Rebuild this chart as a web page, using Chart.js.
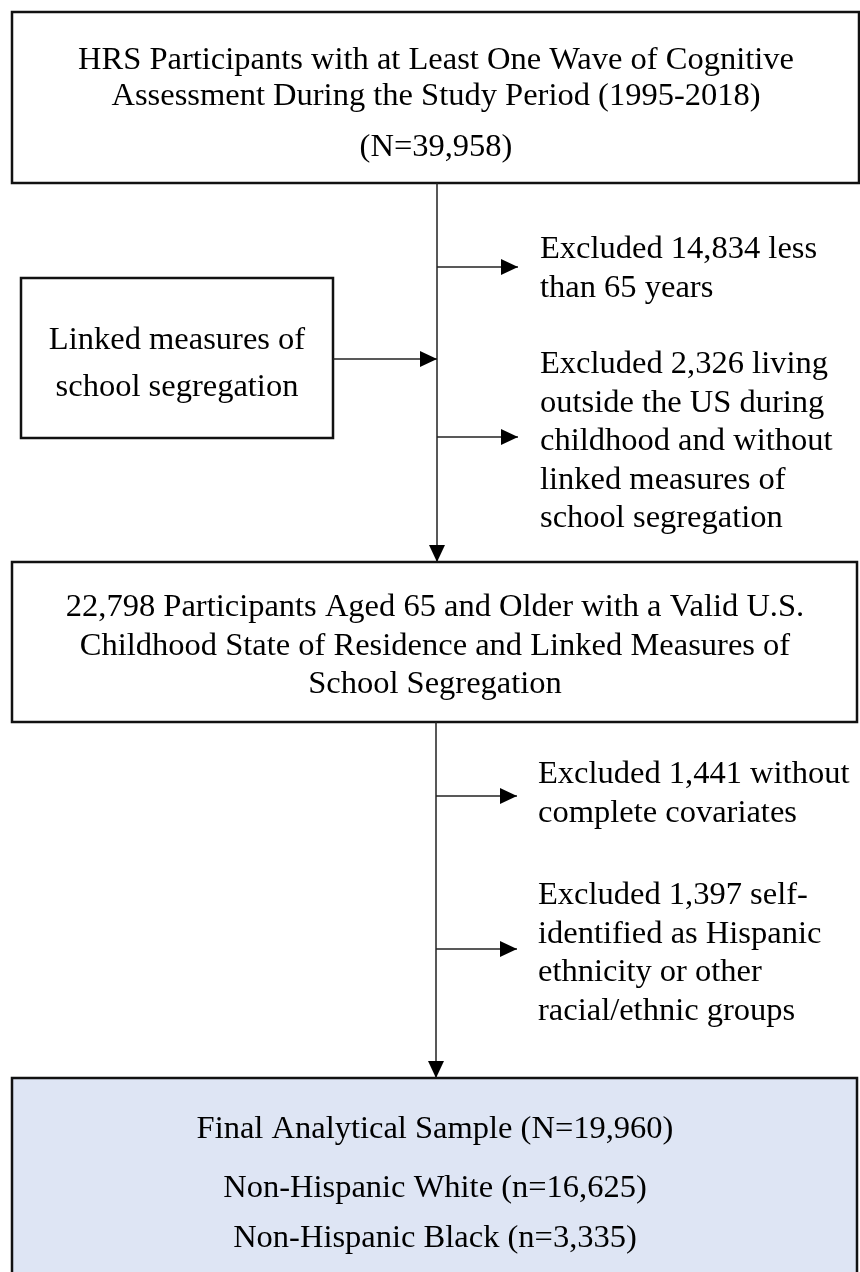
<!DOCTYPE html>
<html>
<head>
<meta charset="utf-8">
<script src="https://cdn.jsdelivr.net/npm/chart.js@4.4.1/dist/chart.umd.min.js"></script>
<style>
  html, body { margin: 0; padding: 0; background: #fff; }
  canvas { display: block; }
</style>
</head>
<body>
<canvas id="flow" width="860" height="1272"></canvas>
<script>
// box texts
const topBox = ['HRS Participants with at Least One Wave of Cognitive', 'Assessment During the Study Period (1995-2018)', '(N=39,958)'];
const sideBox = ['Linked measures of', 'school segregation'];
const midBox = ['22,798 Participants Aged 65 and Older with a Valid U.S.', 'Childhood State of Residence and Linked Measures of', 'School Segregation'];
const finalBox = ['Final Analytical Sample (N=19,960)', 'Non-Hispanic White (n=16,625)', 'Non-Hispanic Black (n=3,335)'];

// exclusion notes on the right
const exclusionsA = [
    ['Excluded 14,834 less', 'than 65 years'],
    ['Excluded 2,326 living', 'outside the US during', 'childhood and without', 'linked measures of', 'school segregation']
];
const exclusionsB = [
    ['Excluded 1,441 without', 'complete covariates'],
    ['Excluded 1,397 self-', 'identified as Hispanic', 'ethnicity or other', 'racial/ethnic groups']
];

// layout (axis units = pixels of the figure, y going down)
const boxes = [
    { lines: topBox, x0: 12, y0: 12, x1: 859, y1: 183, cx: 436, base: [69, 105, 156] },
    { lines: sideBox, x0: 21, y0: 278, x1: 333, y1: 438, cx: 177, base: [349, 396] },
    { lines: midBox, x0: 12, y0: 562, x1: 857, y1: 722, cx: 435, base: [616, 655, 693] },
    { lines: finalBox, x0: 12, y0: 1078, x1: 857, y1: 1300, cx: 435, base: [1138, 1197, 1247], fill: '#dee5f4' }
];
const notes = [
    { lines: exclusionsA[0], x: 540, y: 258 },
    { lines: exclusionsA[1], x: 540, y: 373 },
    { lines: exclusionsB[0], x: 538, y: 783 },
    { lines: exclusionsB[1], x: 538, y: 904 }
];
const connectors = [
    [[437, 183], [437, 562]],
    [[436, 722], [436, 1078]],
    [[437, 267], [518, 267]],
    [[333, 359], [437, 359]],
    [[437, 437], [518, 437]],
    [[436, 796], [517, 796]],
    [[436, 949], [517, 949]]
];
const lineGap = 38.6;
const font = '32.5px "Liberation Serif", "Times New Roman", serif';

const flowPlugin = {
    id: 'flow',
    beforeDatasetsDraw(chart) {
        const { ctx, scales: { x, y } } = chart;
        ctx.save();
        boxes.forEach(b => {
            const l = x.getPixelForValue(b.x0), r = x.getPixelForValue(b.x1);
            const t = y.getPixelForValue(b.y0), btm = y.getPixelForValue(b.y1);
            if (b.fill) {
                ctx.fillStyle = b.fill;
                ctx.fillRect(l, t, r - l, btm - t);
            }
            ctx.lineWidth = 2.5;
            ctx.strokeStyle = '#111';
            ctx.strokeRect(l, t, r - l, btm - t);
        });
        ctx.restore();
    },
    afterDatasetsDraw(chart) {
        const { ctx, scales: { x, y } } = chart;
        ctx.save();
        // arrow heads
        ctx.fillStyle = '#000';
        connectors.forEach(c => {
            const [a, b] = c;
            const px = x.getPixelForValue(b[0]), py = y.getPixelForValue(b[1]);
            const ang = Math.atan2(py - y.getPixelForValue(a[1]), px - x.getPixelForValue(a[0]));
            ctx.save();
            ctx.translate(px, py);
            ctx.rotate(ang);
            ctx.beginPath();
            ctx.moveTo(0, 0);
            ctx.lineTo(-17, -8);
            ctx.lineTo(-17, 8);
            ctx.closePath();
            ctx.fill();
            ctx.restore();
        });
        // texts
        ctx.font = font;
        ctx.fillStyle = '#000';
        ctx.textBaseline = 'alphabetic';
        ctx.textAlign = 'center';
        boxes.forEach(b => {
            b.lines.forEach((s, i) => {
                ctx.fillText(s, x.getPixelForValue(b.cx), y.getPixelForValue(b.base[i]));
            });
        });
        ctx.textAlign = 'left';
        notes.forEach(n => {
            n.lines.forEach((s, i) => {
                ctx.fillText(s, x.getPixelForValue(n.x), y.getPixelForValue(n.y + i * lineGap));
            });
        });
        ctx.restore();
    }
};

const config = {
    type: 'scatter',
    data: {
        datasets: connectors.map(c => ({
            data: c.map(p => ({ x: p[0], y: p[1] })),
            showLine: true,
            borderColor: '#222',
            borderWidth: 1.5,
            pointRadius: 0,
            fill: false
        }))
    },
    options: {
        responsive: false,
        animation: false,
        layout: { padding: 0 },
        plugins: { legend: { display: false }, tooltip: { enabled: false } },
        scales: {
            x: { type: 'linear', min: 0, max: 860, display: false },
            y: { type: 'linear', min: 0, max: 1272, reverse: true, display: false }
        }
    },
    plugins: [flowPlugin]
};

const flowChart = new Chart(document.getElementById('flow'), config);
</script>
</body>
</html>
